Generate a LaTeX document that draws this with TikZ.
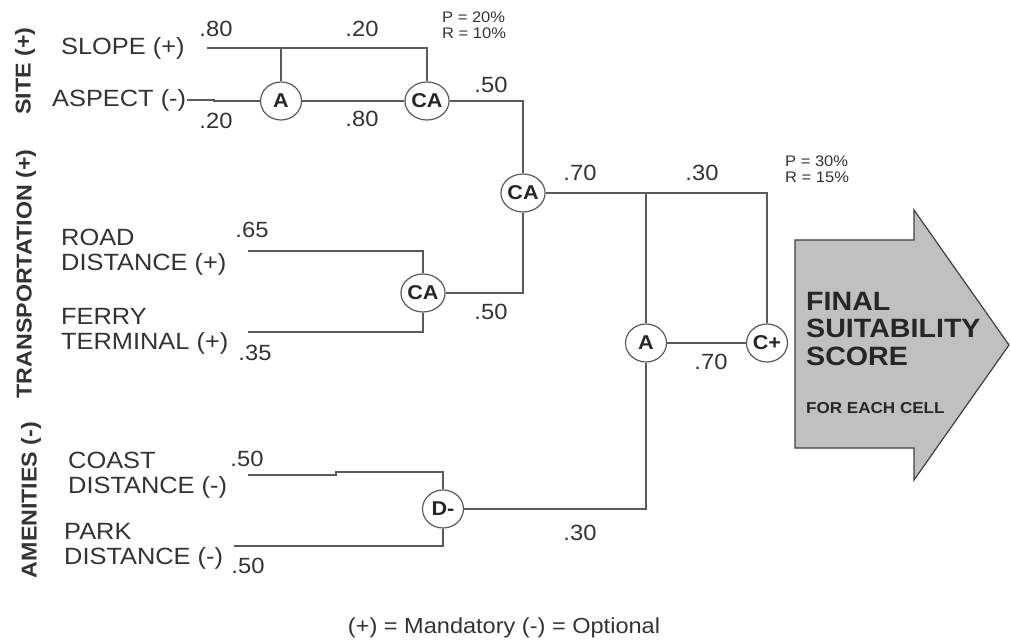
\documentclass[tikz,border=0pt]{standalone}
\usepackage{fontspec}
\setmainfont{Liberation Sans}[FakeStretch=1.08]
\usetikzlibrary{shapes.geometric}
\definecolor{linec}{HTML}{5A5A5A}
\definecolor{txt}{HTML}{333333}
\definecolor{arrowfill}{HTML}{C0C0C0}
\definecolor{arrowline}{HTML}{404040}
\begin{document}
\begin{tikzpicture}[x=1pt,y=-1pt,
  conn/.style={draw=linec, line width=1.4pt},
  gate/.style={ellipse, draw=linec, line width=1.2pt, fill=white, minimum width=41pt, minimum height=38pt, inner sep=0pt, text=black!85, font=\fontsize{20}{20}\selectfont\bfseries},
  lbl/.style={anchor=west, text=txt, inner sep=0pt, align=left, font=\fontsize{23.5}{25}\selectfont},
  num/.style={text=txt, inner sep=0pt, font=\fontsize{22}{22}\selectfont},
  pr/.style={anchor=west, text=txt, inner sep=0pt, align=left, font=\fontsize{15.3}{16}\selectfont},
  grp/.style={rotate=90, text=txt, inner sep=0pt, font=\fontsize{21.5}{21.5}\selectfont\bfseries},
  big/.style={anchor=west, text=black!85, inner sep=0pt, align=left, font=\fontsize{26.5}{27.5}\selectfont\bfseries},
]
\useasboundingbox (0,0) rectangle (1010,644);

% output arrow
\draw[fill=arrowfill, draw=arrowline, line width=1.2pt]
  (795,240) -- (914,240) -- (914,210) -- (1009,345) -- (914,480) -- (914,448) -- (795,448) -- cycle;
\node[big] (final) at (806,329) {FINAL\\SUITABILITY\\SCORE};
\node[anchor=west, text=black!85, inner sep=0pt, font=\fontsize{15.8}{16}\selectfont\bfseries] (cell) at (806,408) {FOR EACH CELL};

% group labels
\node[grp] (site) at (25,71) {SITE (+)};
\node[grp] (trans) at (26,274) {TRANSPORTATION (+)};
\node[grp] (amen) at (31,500) {AMENITIES (-)};

% criterion labels
\node[lbl] (slope) at (61,48) {SLOPE (+)};
\node[lbl] (aspect) at (52,100) {ASPECT (-)};
\node[lbl] (road) at (61,252) {ROAD\\DISTANCE (+)};
\node[lbl] (ferry) at (61,331) {FERRY\\TERMINAL (+)};
\node[lbl] (coast) at (68,475) {COAST\\DISTANCE (-)};
\node[lbl] (park) at (64,546) {PARK\\DISTANCE (-)};

% gates
\node[gate] (A1) at (281,101) {A};
\node[gate] (CA1) at (427,101) {CA};
\node[gate] (CA2) at (523,193) {CA};
\node[gate] (CA3) at (423,293) {CA};
\node[gate] (D) at (443,509) {D-};
\node[gate] (A2) at (646,343) {A};
\node[gate] (CP) at (767,343) {C+};

% free ends
\coordinate (slopeS) at (207,48);
\coordinate (aspectS) at (187,100);
\coordinate (aspectK) at (214,100);
\coordinate (roadS) at (248,251);
\coordinate (ferryS) at (248,332);
\coordinate (coastS) at (248,475);
\coordinate (coastK) at (336,475);
\coordinate (parkS) at (234,546);

% connectors
\draw[conn] (slopeS) -| (CA1.north);
\draw[conn] (A1.north) -- (A1.north |- slopeS);
\draw[conn] (aspectS) -- (aspectK) |- (A1.west);
\draw[conn] (A1.east) -- (CA1.west);
\draw[conn] (CA1.east) -| (CA2.north);
\draw[conn] (roadS) -| (CA3.north);
\draw[conn] (ferryS) -| (CA3.south);
\draw[conn] (CA3.east) -| (CA2.south);
\draw[conn] (CA2.east) -| (CP.north);
\draw[conn] (A2.north) -- (A2.north |- CA2.east);
\draw[conn] (A2.east) -- (CP.west);
\draw[conn] (coastS) -- (coastK) -- ++(0,-3) -| (D.north);
\draw[conn] (parkS) -| (D.south);
\draw[conn] (D.east) -| (A2.south);

% weights
\node[num] (w1) at (216,29) {.80};
\node[num] (w2) at (362,29) {.20};
\node[num] (w3) at (216,121) {.20};
\node[num] (w4) at (362,119) {.80};
\node[num] (w5) at (491,85) {.50};
\node[num] (w6) at (252,230) {.65};
\node[num] (w7) at (255,353) {.35};
\node[num] (w8) at (491,312) {.50};
\node[num] (w9) at (580,173) {.70};
\node[num] (w10) at (702,173) {.30};
\node[num] (w11) at (711,362) {.70};
\node[num] (w12) at (247,459) {.50};
\node[num] (w13) at (248,566) {.50};
\node[num] (w14) at (580,533) {.30};

% P / R
\node[pr] (pr1) at (442,25) {P = 20\%\\R = 10\%};
\node[pr] (pr2) at (785,169) {P = 30\%\\R = 15\%};

% legend
\node[text=txt, inner sep=0pt, font=\fontsize{21.8}{22}\selectfont] (legend) at (504,628) {(+) = Mandatory (-) = Optional};
\end{tikzpicture}
\end{document}
